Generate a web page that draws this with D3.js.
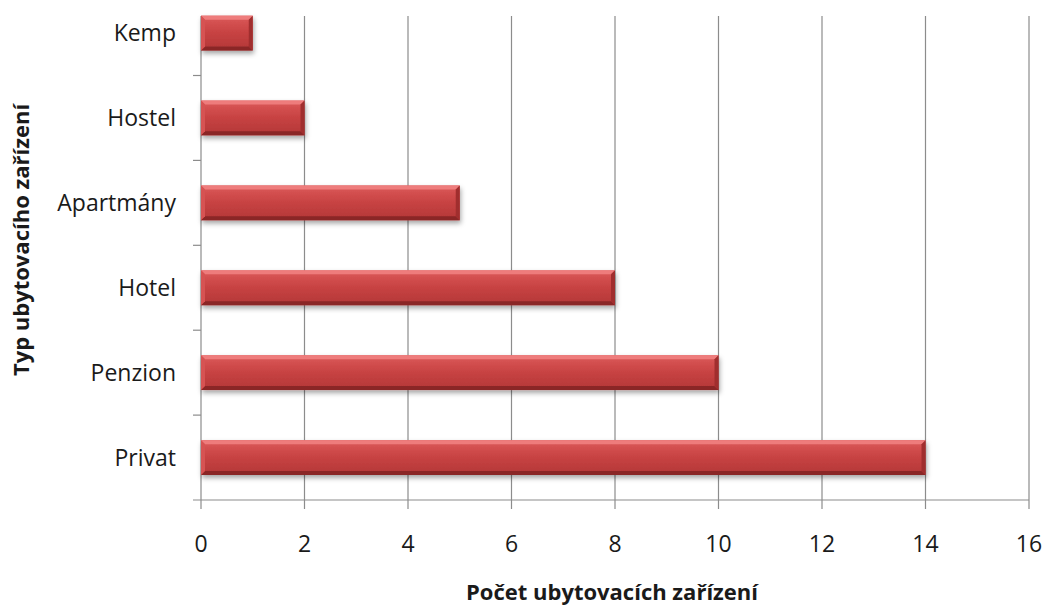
<!DOCTYPE html>
<html><head><meta charset="utf-8">
<script src="https://cdn.jsdelivr.net/npm/d3@7"></script>
<style>body{margin:0;background:#fff}svg{display:block}</style>
</head><body>
<script>
const categories = ["Privat","Penzion","Hotel","Apartmány","Hostel","Kemp"];
const values = [14,10,8,5,2,1];
const xTicks = [0,2,4,6,8,10,12,14,16];
const xTitle = "Počet ubytovacích zařízení";
const yTitle = "Typ ubytovacího zařízení";

(function(){
const W=1044,H=608;
const svg=d3.select("body").append("svg").attr("width",W).attr("height",H);
const pL=201,pR=1029,pB=500,pT=16,step=84.9;
const x=d3.scaleLinear().domain([0,16]).range([pL,pR]);
const y=d3.scaleBand().domain(categories).range([pB,pB-step*categories.length]).paddingInner(0.59).paddingOuter(0.295);

const defs=svg.append("defs");
const g=defs.append("linearGradient").attr("id","bg").attr("x1",0).attr("y1",0).attr("x2",0).attr("y2",1);
[[0,"#dc5a5a"],[0.45,"#c94444"],[1,"#b33636"]].forEach(s=>g.append("stop").attr("offset",s[0]).attr("stop-color",s[1]));
const f=defs.append("filter").attr("id","sh").attr("x","-10%").attr("y","-30%").attr("width","130%").attr("height","180%");
f.append("feDropShadow").attr("dx",1).attr("dy",3).attr("stdDeviation",2.5).attr("flood-color","#000").attr("flood-opacity",0.35);

svg.append("g").selectAll("line").data(xTicks.filter(d=>d>0)).join("line")
 .attr("x1",d=>x(d)).attr("x2",d=>x(d)).attr("y1",pT).attr("y2",pB+9)
 .attr("stroke","#8c8c8c").attr("stroke-width",1.2);
svg.append("line").attr("x1",pL).attr("x2",pL).attr("y1",pT).attr("y2",pB+9).attr("stroke","#8c8c8c").attr("stroke-width",1.2);
svg.append("line").attr("x1",pL-8).attr("x2",pR).attr("y1",pB).attr("y2",pB).attr("stroke","#8c8c8c").attr("stroke-width",1.2);
const bounds=d3.range(1,categories.length).map(i=>y.range()[0]-i*step);
svg.append("g").selectAll("line").data(bounds).join("line")
 .attr("x1",pL-8).attr("x2",pL).attr("y1",d=>d).attr("y2",d=>d).attr("stroke","#8c8c8c").attr("stroke-width",1.2);

const bw=y.bandwidth(), bv=4;
const bars=svg.append("g").selectAll("g").data(categories).join("g").attr("filter","url(#sh)");
bars.each(function(c,i){
  const gg=d3.select(this);
  const x0=x(0), x1=x(values[i]), y0=y(c), y1=y(c)+bw;
  gg.append("rect").attr("x",x0).attr("y",y0).attr("width",x1-x0).attr("height",bw).attr("fill","url(#bg)");
  const poly=(pts,fill)=>gg.append("polygon").attr("points",pts.map(p=>p.join(",")).join(" ")).attr("fill",fill);
  poly([[x0,y0],[x1,y0],[x1-bv,y0+bv],[x0+bv,y0+bv]],"#ee7c7c");
  poly([[x0,y1],[x1,y1],[x1-bv,y1-bv],[x0+bv,y1-bv]],"#8a2828");
  poly([[x1,y0],[x1,y1],[x1-bv,y1-bv],[x1-bv,y0+bv]],"#a02e2e");
  poly([[x0,y0],[x0,y1],[x0+bv,y1-bv],[x0+bv,y0+bv]],"#d65252");
});

svg.append("g").selectAll("text").data(xTicks).join("text")
 .attr("x",d=>x(d)).attr("y",552).attr("text-anchor","middle")
 .attr("font-family","Open Sans").attr("font-size",23).attr("fill","#1a1a1a").text(d=>d);
svg.append("g").selectAll("text").data(categories).join("text")
 .attr("x",176).attr("y",d=>y(d)+bw/2+8).attr("text-anchor","end")
 .attr("font-family","Open Sans").attr("font-size",23).attr("fill","#1a1a1a").text(d=>d);
svg.append("text").attr("x",612).attr("y",600).attr("text-anchor","middle")
 .attr("font-family","Open Sans").attr("font-weight","bold").attr("font-size",22).attr("fill","#1a1a1a").text(xTitle);
svg.append("text").attr("transform","translate(29,240) rotate(-90)").attr("text-anchor","middle")
 .attr("font-family","Open Sans").attr("font-weight","bold").attr("font-size",22).attr("fill","#1a1a1a").text(yTitle);
})();
</script>
</body></html>
